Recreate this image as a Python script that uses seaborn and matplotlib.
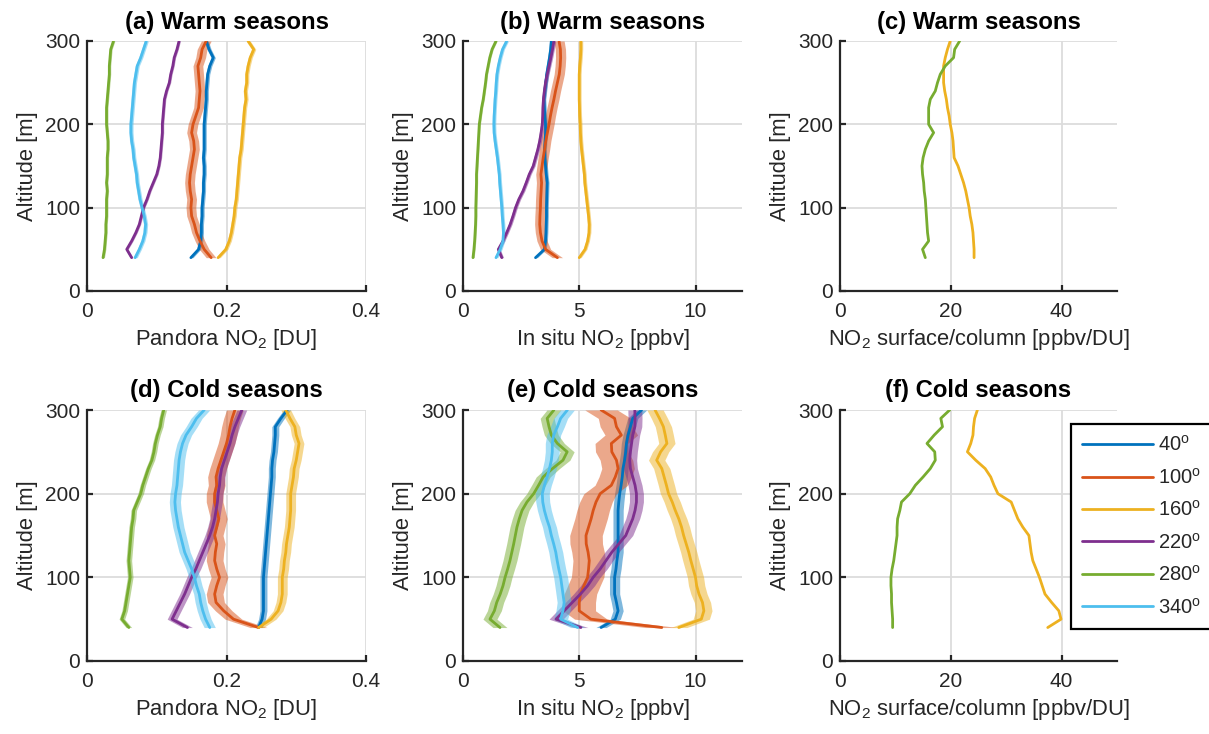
import numpy as np
import pandas as pd
import seaborn as sns
import matplotlib
matplotlib.use("Agg")
import matplotlib.pyplot as plt
from matplotlib.lines import Line2D

# ---------------------------------------------------------------- data
altitude = [40, 50, 60, 70, 80, 90, 100, 110, 120, 130, 140, 150, 160, 170,
            180, 190, 200, 210, 220, 230, 240, 250, 260, 270, 280, 290, 300]

directions = [40, 100, 160, 220, 280, 340]
direction_labels = ["40$^\\mathrm{o}$", "100$^\\mathrm{o}$", "160$^\\mathrm{o}$",
                    "220$^\\mathrm{o}$", "280$^\\mathrm{o}$", "340$^\\mathrm{o}$"]
colors = ["#0072BD", "#D95319", "#EDB120", "#7E2F8E", "#77AC30", "#4DBEEE"]

# Pandora NO2 column [DU], warm seasons
pandora_warm_040 = [0.149, 0.160, 0.163, 0.164, 0.164, 0.165, 0.165, 0.166, 0.167, 0.167, 0.168, 0.168, 0.167, 0.168,
                    0.168, 0.168, 0.168, 0.169, 0.170, 0.171, 0.171, 0.172, 0.173, 0.176, 0.181, 0.175, 0.171]
pandora_warm_100 = [0.178, 0.168, 0.162, 0.157, 0.154, 0.150, 0.149, 0.150, 0.148, 0.147, 0.148, 0.150, 0.152, 0.154,
                    0.153, 0.150, 0.152, 0.156, 0.160, 0.161, 0.162, 0.161, 0.160, 0.159, 0.163, 0.165, 0.171]
pandora_warm_160 = [0.188, 0.199, 0.204, 0.207, 0.209, 0.211, 0.212, 0.214, 0.215, 0.216, 0.217, 0.218, 0.219, 0.221,
                    0.222, 0.223, 0.224, 0.225, 0.226, 0.228, 0.227, 0.229, 0.229, 0.231, 0.234, 0.239, 0.231]
pandora_warm_220 = [0.064, 0.057, 0.064, 0.070, 0.075, 0.078, 0.081, 0.086, 0.090, 0.095, 0.100, 0.103, 0.105, 0.106,
                    0.107, 0.108, 0.108, 0.109, 0.110, 0.111, 0.114, 0.118, 0.120, 0.123, 0.125, 0.129, 0.132]
pandora_warm_280 = [0.023, 0.025, 0.026, 0.027, 0.027, 0.028, 0.028, 0.028, 0.029, 0.028, 0.029, 0.029, 0.029, 0.030,
                    0.030, 0.029, 0.028, 0.028, 0.028, 0.029, 0.030, 0.031, 0.032, 0.032, 0.033, 0.034, 0.038]
pandora_warm_340 = [0.069, 0.075, 0.080, 0.083, 0.084, 0.082, 0.079, 0.076, 0.074, 0.072, 0.071, 0.069, 0.067, 0.066,
                    0.064, 0.063, 0.063, 0.064, 0.065, 0.066, 0.067, 0.068, 0.070, 0.072, 0.077, 0.081, 0.085]
pandora_warm_spread = [0.003, 0.007, 0.003, 0.002, 0.002, 0.003]

# In situ NO2 [ppbv], warm seasons
insitu_warm_040 = [3.12, 3.50, 3.55, 3.57, 3.58, 3.59, 3.59, 3.60, 3.61, 3.62, 3.58, 3.55, 3.52, 3.51,
                   3.53, 3.55, 3.55, 3.52, 3.50, 3.48, 3.52, 3.56, 3.60, 3.66, 3.72, 3.77, 3.80]
insitu_warm_100 = [4.06, 3.55, 3.40, 3.33, 3.30, 3.31, 3.33, 3.34, 3.36, 3.38, 3.35, 3.40, 3.45, 3.51,
                   3.56, 3.63, 3.70, 3.76, 3.83, 3.91, 3.98, 4.06, 4.14, 4.18, 4.20, 4.19, 4.13]
insitu_warm_160 = [5.00, 5.25, 5.36, 5.42, 5.43, 5.40, 5.36, 5.32, 5.28, 5.24, 5.22, 5.18, 5.14, 5.10,
                   5.07, 5.05, 5.04, 5.02, 5.01, 5.00, 5.00, 5.00, 5.00, 5.02, 5.05, 5.07, 5.07]
insitu_warm_220 = [1.67, 1.52, 1.72, 1.88, 2.03, 2.15, 2.26, 2.40, 2.58, 2.72, 2.85, 3.02, 3.12, 3.22,
                   3.30, 3.36, 3.41, 3.43, 3.44, 3.46, 3.50, 3.55, 3.62, 3.70, 3.78, 3.85, 3.91]
insitu_warm_280 = [0.43, 0.47, 0.50, 0.52, 0.54, 0.55, 0.55, 0.56, 0.57, 0.58, 0.58, 0.60, 0.62, 0.64,
                   0.66, 0.68, 0.70, 0.75, 0.80, 0.87, 0.92, 0.97, 1.01, 1.08, 1.15, 1.25, 1.42]
insitu_warm_340 = [1.42, 1.60, 1.72, 1.74, 1.72, 1.69, 1.67, 1.64, 1.61, 1.58, 1.56, 1.52, 1.48, 1.43,
                   1.38, 1.34, 1.33, 1.34, 1.36, 1.38, 1.41, 1.43, 1.46, 1.52, 1.60, 1.70, 1.88]
insitu_warm_spread = [0.08, 0.22, 0.08, 0.08, 0.05, 0.08]

# NO2 surface/column ratio [ppbv/DU], warm seasons (160 and 280 degrees)
ratio_warm_160 = [24.2, 24.2, 24.1, 24.0, 23.8, 23.5, 23.3, 23.0, 22.7, 22.3, 21.8, 21.3, 20.6, 20.5,
                  20.4, 20.2, 19.9, 19.7, 19.4, 19.2, 18.9, 18.7, 18.7, 18.7, 19.0, 19.4, 19.9]
ratio_warm_280 = [15.4, 14.9, 16.0, 15.8, 15.7, 15.6, 15.5, 15.4, 15.2, 15.1, 14.9, 14.8, 15.0, 15.4,
                  16.0, 16.9, 16.0, 16.0, 16.0, 16.3, 17.2, 17.6, 18.1, 19.0, 20.5, 20.7, 21.6]

# Pandora NO2 column [DU], cold seasons
pandora_cold_040 = [0.246, 0.251, 0.253, 0.253, 0.253, 0.253, 0.253, 0.254, 0.255, 0.256, 0.257, 0.258, 0.259, 0.260,
                    0.261, 0.262, 0.263, 0.264, 0.265, 0.265, 0.266, 0.268, 0.269, 0.270, 0.270, 0.278, 0.287]
pandora_cold_100 = [0.246, 0.210, 0.196, 0.185, 0.183, 0.186, 0.190, 0.186, 0.183, 0.184, 0.186, 0.183, 0.186, 0.189,
                    0.186, 0.183, 0.183, 0.186, 0.185, 0.188, 0.192, 0.196, 0.200, 0.203, 0.205, 0.208, 0.212]
pandora_cold_160 = [0.246, 0.264, 0.274, 0.278, 0.280, 0.280, 0.280, 0.282, 0.283, 0.285, 0.286, 0.288, 0.290, 0.291,
                    0.292, 0.292, 0.292, 0.294, 0.296, 0.297, 0.300, 0.302, 0.304, 0.300, 0.298, 0.291, 0.285]
pandora_cold_220 = [0.144, 0.122, 0.128, 0.134, 0.140, 0.145, 0.150, 0.156, 0.161, 0.166, 0.171, 0.176, 0.180, 0.183,
                    0.185, 0.187, 0.188, 0.190, 0.191, 0.193, 0.197, 0.201, 0.205, 0.208, 0.212, 0.217, 0.222]
pandora_cold_280 = [0.060, 0.050, 0.054, 0.056, 0.058, 0.060, 0.062, 0.061, 0.060, 0.061, 0.062, 0.063, 0.064, 0.066,
                    0.067, 0.072, 0.077, 0.080, 0.084, 0.088, 0.093, 0.096, 0.098, 0.101, 0.105, 0.107, 0.110]
pandora_cold_340 = [0.176, 0.170, 0.166, 0.163, 0.161, 0.157, 0.154, 0.150, 0.145, 0.140, 0.137, 0.134, 0.131, 0.129,
                    0.127, 0.126, 0.127, 0.129, 0.130, 0.131, 0.132, 0.134, 0.137, 0.142, 0.150, 0.157, 0.168]
pandora_cold_spread = [0.005, 0.012, 0.007, 0.007, 0.004, 0.008]

# In situ NO2 [ppbv], cold seasons
insitu_cold_040 = [5.94, 6.55, 6.67, 6.60, 6.52, 6.52, 6.52, 6.58, 6.62, 6.67, 6.67, 6.67, 6.67, 6.67,
                   6.67, 6.70, 6.74, 6.80, 6.85, 6.88, 6.95, 7.00, 7.03, 7.10, 7.20, 7.30, 7.68]
insitu_cold_100 = [8.55, 5.50, 5.00, 5.00, 5.05, 5.20, 5.36, 5.40, 5.43, 5.38, 5.30, 5.29, 5.40, 5.51,
                   5.60, 5.72, 5.90, 6.38, 6.55, 6.67, 6.60, 6.40, 6.38, 6.81, 6.60, 6.52, 5.94]
insitu_cold_160 = [9.28, 10.25, 10.36, 10.30, 10.15, 10.05, 10.00, 9.90, 9.80, 9.71, 9.60, 9.49, 9.40, 9.28,
                   9.13, 9.00, 8.84, 8.75, 8.65, 8.55, 8.33, 8.50, 8.77, 8.70, 8.62, 8.45, 8.26]
insitu_cold_220 = [5.07, 4.00, 4.35, 4.70, 5.05, 5.36, 5.60, 5.90, 6.15, 6.40, 6.70, 7.00, 7.15, 7.30,
                   7.40, 7.46, 7.46, 7.40, 7.30, 7.20, 7.17, 7.20, 7.25, 7.30, 7.39, 7.40, 7.39]
insitu_cold_280 = [1.59, 1.16, 1.35, 1.45, 1.60, 1.72, 1.81, 1.92, 2.02, 2.10, 2.18, 2.25, 2.32, 2.42,
                   2.54, 2.75, 3.04, 3.25, 3.45, 3.85, 4.30, 4.48, 4.06, 3.80, 3.70, 3.62, 3.91]
insitu_cold_340 = [4.93, 4.20, 4.30, 4.35, 4.30, 4.25, 4.20, 4.12, 4.05, 3.99, 3.90, 3.80, 3.72, 3.60,
                   3.50, 3.43, 3.41, 3.50, 3.62, 3.72, 3.80, 3.84, 3.84, 3.90, 4.06, 4.20, 4.49]
insitu_cold_spread = [0.22, 0.70, 0.35, 0.30, 0.30, 0.30]

# NO2 surface/column ratio [ppbv/DU], cold seasons (160 and 280 degrees)
ratio_cold_160 = [37.5, 39.9, 39.5, 38.2, 37.0, 36.5, 36.0, 35.4, 34.8, 34.5, 34.3, 34.1, 33.0, 32.1,
                  31.5, 30.9, 28.5, 27.8, 27.2, 26.2, 24.5, 23.0, 23.6, 24.0, 24.1, 24.3, 24.8]
ratio_cold_280 = [9.5, 9.5, 9.4, 9.3, 9.3, 9.2, 9.2, 9.4, 9.7, 9.9, 10.1, 10.3, 10.3, 10.4,
                  10.8, 11.1, 12.6, 13.6, 15.0, 16.3, 17.2, 17.1, 15.7, 17.0, 18.5, 18.2, 19.8]

# ---------------------------------------------------------------- style
sns.set_theme(style="white")
plt.rcParams["font.family"] = ["Liberation Sans", "DejaVu Sans"]
plt.rcParams["mathtext.fontset"] = "custom"
plt.rcParams["mathtext.rm"] = "Liberation Sans"
plt.rcParams["mathtext.it"] = "Liberation Sans:italic"
plt.rcParams["mathtext.bf"] = "Liberation Sans:bold"

INK = "#262626"
GRID = "#dcdcdc"

fig = plt.figure(figsize=(12.09, 7.34), dpi=100)

col_left = [87 / 1209, 463 / 1209, 840 / 1209]
col_width = [279 / 1209, 279 / 1209, 277 / 1209]
row_bottom = [1 - 291 / 734, 1 - 661 / 734]
row_height = [250 / 734, 251 / 734]


def profile_frame(values):
    return pd.DataFrame({"value": values, "altitude": altitude})


def style_axes(ax, xlim, xticks, xticklabels, xlabel, title):
    ax.set_xlim(*xlim)
    ax.set_ylim(0, 300)
    ax.set_xticks(xticks)
    ax.set_xticklabels(xticklabels)
    ax.set_yticks([0, 100, 200, 300])
    ax.grid(True, color=GRID, linewidth=1.3)
    ax.set_axisbelow(True)
    for side in ("top", "right"):
        ax.spines[side].set_visible(False)
    for side in ("left", "bottom"):
        ax.spines[side].set_color(INK)
        ax.spines[side].set_linewidth(1.6)
    ax.tick_params(direction="in", length=4, width=1.6, color=INK,
                   labelsize=15, labelcolor=INK, bottom=True, left=True)
    ax.tick_params(axis="x", pad=8)
    ax.tick_params(axis="y", pad=5)
    ax.set_xlabel(xlabel, fontsize=15.8, color=INK, labelpad=4)
    ax.set_ylabel("Altitude [m]", fontsize=15.8, color=INK, labelpad=5)
    ax.set_title(title, fontsize=17.2, fontweight="bold", color="black", pad=9)


def draw_profiles(ax, series, spreads=None, idx=None):
    idx = range(len(series)) if idx is None else idx
    for k, values in zip(idx, series):
        v = np.asarray(values)
        if spreads is not None:
            ax.fill_betweenx(altitude, v - spreads[k], v + spreads[k],
                             color=colors[k], alpha=0.5, linewidth=0)
        sns.lineplot(data=profile_frame(values), x="value", y="altitude",
                     orient="y", sort=False, color=colors[k], linewidth=2.0,
                     ax=ax, estimator=None)


panels = [
    dict(row=0, col=0, title="(a) Warm seasons",
         series=[pandora_warm_040, pandora_warm_100, pandora_warm_160,
                 pandora_warm_220, pandora_warm_280, pandora_warm_340],
         spread=pandora_warm_spread, xlim=(0, 0.4), xticks=[0, 0.2, 0.4],
         xticklabels=["0", "0.2", "0.4"], xlabel="Pandora NO$_2$ [DU]"),
    dict(row=0, col=1, title="(b) Warm seasons",
         series=[insitu_warm_040, insitu_warm_100, insitu_warm_160,
                 insitu_warm_220, insitu_warm_280, insitu_warm_340],
         spread=insitu_warm_spread, xlim=(0, 12), xticks=[0, 5, 10],
         xticklabels=["0", "5", "10"], xlabel="In situ NO$_2$ [ppbv]"),
    dict(row=0, col=2, title="(c) Warm seasons",
         series=[ratio_warm_160, ratio_warm_280], idx=[2, 4],
         spread=None, xlim=(0, 50), xticks=[0, 20, 40],
         xticklabels=["0", "20", "40"], xlabel="NO$_2$ surface/column [ppbv/DU]"),
    dict(row=1, col=0, title="(d) Cold seasons",
         series=[pandora_cold_040, pandora_cold_100, pandora_cold_160,
                 pandora_cold_220, pandora_cold_280, pandora_cold_340],
         spread=pandora_cold_spread, xlim=(0, 0.4), xticks=[0, 0.2, 0.4],
         xticklabels=["0", "0.2", "0.4"], xlabel="Pandora NO$_2$ [DU]"),
    dict(row=1, col=1, title="(e) Cold seasons",
         series=[insitu_cold_040, insitu_cold_100, insitu_cold_160,
                 insitu_cold_220, insitu_cold_280, insitu_cold_340],
         spread=insitu_cold_spread, xlim=(0, 12), xticks=[0, 5, 10],
         xticklabels=["0", "5", "10"], xlabel="In situ NO$_2$ [ppbv]"),
    dict(row=1, col=2, title="(f) Cold seasons",
         series=[ratio_cold_160, ratio_cold_280], idx=[2, 4],
         spread=None, xlim=(0, 50), xticks=[0, 20, 40],
         xticklabels=["0", "20", "40"], xlabel="NO$_2$ surface/column [ppbv/DU]"),
]

for p in panels:
    r, c = p["row"], p["col"]
    ax = fig.add_axes([col_left[c], row_bottom[r], col_width[c], row_height[r]])
    draw_profiles(ax, p["series"], p["spread"], p.get("idx"))
    style_axes(ax, p["xlim"], p["xticks"], p["xticklabels"], p["xlabel"], p["title"])

# Shared legend for the six wind directions
handles = [Line2D([], [], color=colors[k], linewidth=2.0) for k in range(len(directions))]
leg = fig.legend(handles, direction_labels, loc="upper left",
                 bbox_to_anchor=(1071 / 1209, 1 - 424 / 734),
                 bbox_transform=fig.transFigure, borderaxespad=0,
                 fontsize=14.5, handlelength=3.5, handletextpad=0.25,
                 labelspacing=0.62, borderpad=0.55, fancybox=False,
                 framealpha=1, edgecolor="black")
leg.get_frame().set_linewidth(1.6)
for t in leg.get_texts():
    t.set_color(INK)

fig.savefig("out.png", dpi=100)
